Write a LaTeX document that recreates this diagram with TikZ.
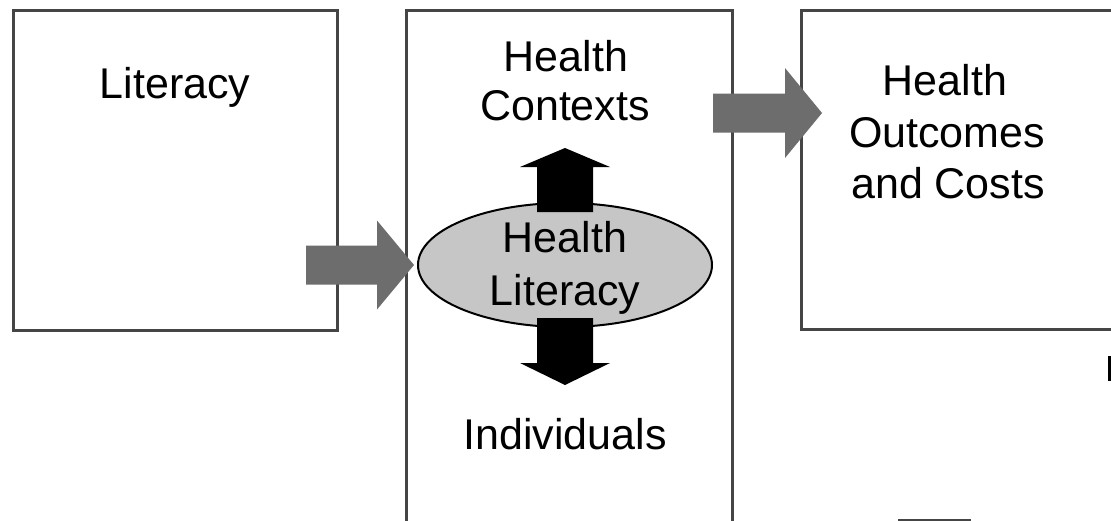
\documentclass[tikz,border=0pt]{standalone}
\usepackage{fontspec}
\setmainfont{Liberation Sans}
\usetikzlibrary{shapes.geometric}
\definecolor{boxgray}{HTML}{454545}
\definecolor{arrowgray}{HTML}{6D6D6D}
\definecolor{ellgray}{HTML}{C6C6C6}
\begin{document}
\begin{tikzpicture}[x=1pt,y=-1pt,
  frame/.style={draw=boxgray, line width=2.6pt, rectangle, inner sep=0pt, anchor=north west},
  word/.style={font=\fontsize{43}{50}\selectfont, anchor=base, inner sep=0pt},
  grayarrow/.style={fill=arrowgray, draw=none},
  blackarrow/.style={fill=black, draw=none}]
\clip (0,0) rectangle (1111,520);
\fill[white] (0,0) rectangle (1111,520);

% the three frames
\node[frame, minimum width=324pt, minimum height=320pt] (litbox) at (12,9) {};
\node[frame, minimum width=326pt, minimum height=560pt] (hlbox) at (405,9) {};
\node[frame, minimum width=340pt, minimum height=319pt] (outbox) at (800,9) {};
\node[frame, minimum width=70pt, minimum height=30pt] (nextbox) at (898,519) {};

% health literacy ellipse
\node[ellipse, draw=black, line width=2pt, fill=ellgray,
      minimum width=294pt, minimum height=124pt] (hl) at (565,265) {};

% block arrows
\coordinate (tipA) at ([xshift=-3pt]hl.west);
\coordinate (tipB) at (822,113);
\coordinate (tipUp) at (565,148);
\coordinate (tipDown) at (565,385);

\fill[grayarrow, shift={(tipA)}]
  (-108,-19.5) -- (-37,-19.5) -- (-37,-44.5) -- (0,0) -- (-37,44.5) -- (-37,19.5) -- (-108,19.5) -- cycle;
\fill[grayarrow, shift={(tipB)}]
  (-109,-19.5) -- (-37,-19.5) -- (-37,-45) -- (0,0) -- (-37,45) -- (-37,19.5) -- (-109,19.5) -- cycle;
\fill[blackarrow, shift={(tipUp)}]
  (-28,64) -- (-28,19) -- (-45,19) -- (0,0) -- (45,19) -- (28,19) -- (28,64) -- cycle;
\fill[blackarrow, shift={(tipDown)}]
  (-28,-67) -- (-28,-22) -- (-45,-22) -- (0,0) -- (45,-22) -- (28,-22) -- (28,-67) -- cycle;

% labels
\node[word] (litA) at (175,98) {Literacy};
\node[word] (ctxA) at (566,71) {Health};
\node[word] (ctxB) at (565,120) {Contexts};
\node[word] (hlA) at (565,252) {Health};
\node[word] (hlB) at (565,305) {Literacy};
\node[word] (ind) at (565,449) {Individuals};
\node[word] (outA) at (945,95) {Health};
\node[word] (outB) at (947,147) {Outcomes};
\node[word] (outC) at (948,198) {and Costs};

% edge of a further item at the right margin
\fill (1108,356) rectangle (1112,381);
\end{tikzpicture}
\end{document}
